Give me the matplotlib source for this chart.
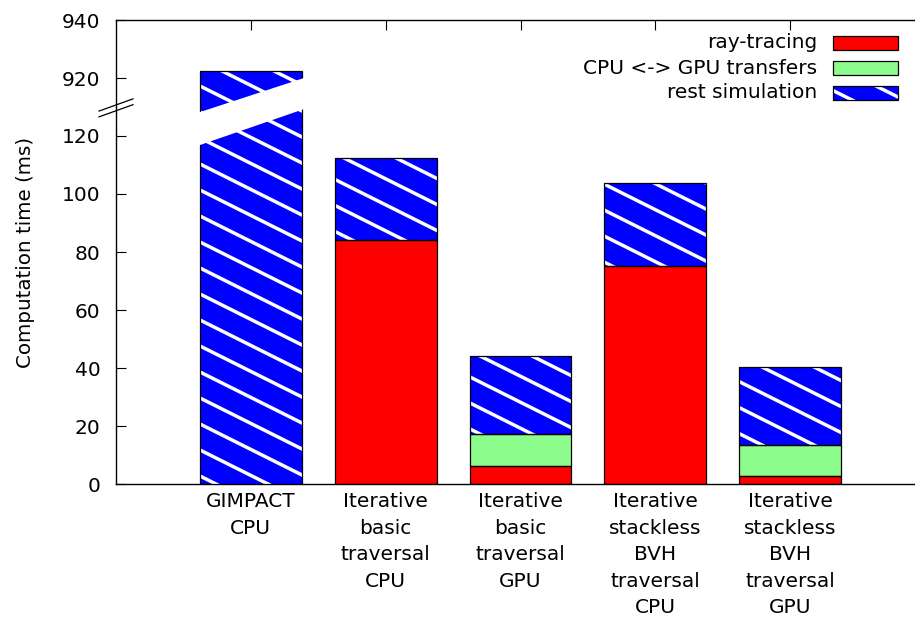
import matplotlib
matplotlib.use('Agg')
import matplotlib.pyplot as plt
from matplotlib.patches import Rectangle, Polygon
from matplotlib.collections import LineCollection
from matplotlib.transforms import IdentityTransform

plt.rcParams['font.family'] = ['DejaVu Sans']

CATEGORIES = ['GIMPACT\nCPU',
              'Iterative\nbasic\ntraversal\nCPU',
              'Iterative\nbasic\ntraversal\nGPU',
              'Iterative\nstackless\nBVH\ntraversal\nCPU',
              'Iterative\nstackless\nBVH\ntraversal\nGPU']
RAY_TRACING = [0.0, 84.1, 6.3, 75.2, 2.7]
TRANSFERS = [0.0, 0.0, 10.8, 0.0, 10.8]
REST = [922.5, 28.3, 27.0, 28.6, 26.8]
SERIES_LABELS = ['ray-tracing', 'CPU <-> GPU transfers', 'rest simulation']
SERIES_COLORS = ['#ff0000', '#8cfd8c', '#0000ff']
YTICKS = [0, 20, 40, 60, 80, 100, 120, 920, 940]

# broken axis: everything above BREAK_LO is shifted down so 920 sits at 140
BREAK_LO, BREAK_HI = 120, 920
GAP = 20


def squash(v):
    return v if v <= BREAK_LO else v - (BREAK_HI - BREAK_LO) + GAP


def hatch_lines(ax, patch, spacing=26, slope=-0.5, z=3):
    '''White diagonal stripes in pixel space, clipped to a patch (gnuplot-like pattern).'''
    segs = []
    for c in range(-200, 618 + 600, spacing):
        segs.append([(0, c), (915, c + slope * 915)])
    lc = LineCollection(segs, colors='white', linewidths=2.5,
                        transform=IdentityTransform(), zorder=z)
    ax.add_collection(lc, autolim=False)
    # after add_collection, otherwise the axes patch replaces the clip
    lc.set_clip_path(patch)


fig = plt.figure(figsize=(9.15, 6.18), dpi=100)
ax = fig.add_axes([116 / 915, 134 / 618, 809 / 915, 464 / 618])

x = list(range(len(CATEGORIES)))
width = 0.755
bottom = [0.0] * len(x)
for vals, color, kind in zip([RAY_TRACING, TRANSFERS, REST], SERIES_COLORS, range(3)):
    for i in x:
        if vals[i] <= 0:
            continue
        b0, b1 = squash(bottom[i]), squash(bottom[i] + vals[i])
        bar = ax.bar(i, b1 - b0, width, bottom=b0, color=color,
                     edgecolor='none', linewidth=0, zorder=2)[0]
        if kind == 2:
            hatch_lines(ax, bar)
        ax.bar(i, b1 - b0, width, bottom=b0, facecolor='none',
               edgecolor='black', linewidth=0.9, zorder=4)
        bottom[i] += vals[i]

# white break band across the tall bar
band = Polygon([(-0.42, 116.2), (0.42, 129.7), (0.42, 140.4), (-0.42, 127.6)],
               closed=True, facecolor='white', edgecolor='none', zorder=5)
ax.add_patch(band)

# break marks on the y axis
for y0 in (126.6, 128.6):
    ax.plot([-1.126, -0.874], [y0, y0 + 4.2], color='black', lw=0.9,
            clip_on=False, zorder=6)

ax.set_xlim(-1, 5)
ax.set_ylim(0, 160)
ax.set_yticks([squash(v) for v in YTICKS])
ax.set_yticklabels([str(v) for v in YTICKS])
ax.set_xticks(x)
ax.set_xticklabels(CATEGORIES, linespacing=1.5)
ax.tick_params(axis='both', direction='in', length=7, width=0.8,
               top=True, right=True, labelsize=14.5)
ax.tick_params(axis='y', pad=11)
ax.tick_params(axis='x', pad=6)
for s in ax.spines.values():
    s.set_linewidth(1.0)
ax.set_ylabel('Computation time (ms)', fontsize=14.3)
ax.yaxis.set_label_coords(-0.1, 0.5)

# legend: text right-aligned, sample box to the right
for k, (lab, col) in enumerate(zip(SERIES_LABELS, SERIES_COLORS)):
    yc = (484 - (43 + 25 * k)) / 464
    ax.text((817 - 116) / 809, yc, lab, transform=ax.transAxes, ha='right',
            va='center', fontsize=14.5)
    box = Rectangle(((833 - 116) / 809, yc - 6.5 / 464), 65 / 809, 13 / 464,
                    transform=ax.transAxes, facecolor=col, edgecolor='none',
                    zorder=6)
    ax.add_patch(box)
    if k == 2:
        hatch_lines(ax, box, z=7)
    ax.add_patch(Rectangle(((833 - 116) / 809, yc - 6.5 / 464), 65 / 809, 13 / 464,
                           transform=ax.transAxes, facecolor='none',
                           edgecolor='black', linewidth=0.9, zorder=8))

fig.savefig('out.png', dpi=100)
